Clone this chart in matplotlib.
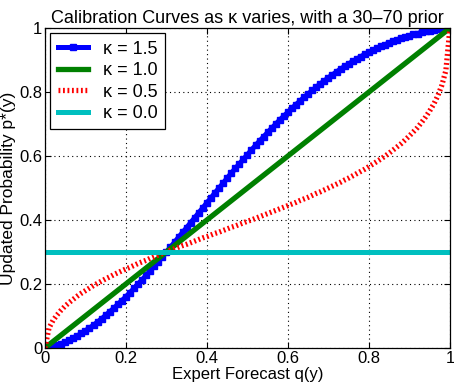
import numpy as np
import matplotlib
matplotlib.use("Agg")
import matplotlib.pyplot as plt

plt.rcParams["font.family"] = ["Liberation Sans", "DejaVu Sans"]

# expert forecast grid, step 0.01
q = np.linspace(0, 1, 101)

p_k15 = [
    .000, .002, .004, .008, .013, .018, .024, .031, .038, .045, .054, .062, .071, .081, .091, .102, .113,
    .124, .136, .148, .160, .173, .186, .200, .213, .227, .241, .256, .270, .285, .300, .315, .330, .346,
    .361, .376, .392, .407, .423, .438, .454, .469, .485, .500, .515, .531, .546, .561, .575, .590, .604,
    .619, .633, .647, .660, .674, .687, .700, .713, .725, .737, .749, .761, .772, .784, .794, .805, .815,
    .826, .835, .845, .854, .863, .872, .880, .888, .896, .903, .911, .918, .924, .931, .937, .943, .948,
    .954, .959, .964, .968, .972, .976, .980, .983, .987, .990, .992, .994, .996, .998, .999, 1.000,
]
p_k05 = [
    .000, .062, .086, .103, .118, .131, .142, .152, .162, .171, .179, .187, .195, .202, .209, .216, .222,
    .229, .235, .241, .247, .252, .258, .264, .269, .274, .280, .285, .290, .295, .300, .305, .310, .315,
    .320, .324, .329, .334, .339, .344, .348, .353, .358, .362, .367, .372, .377, .381, .386, .391, .396,
    .400, .405, .410, .415, .420, .425, .430, .435, .440, .445, .450, .455, .461, .466, .471, .477, .483,
    .488, .494, .500, .506, .512, .518, .525, .531, .538, .545, .552, .559, .567, .575, .583, .591, .600,
    .609, .619, .629, .639, .651, .663, .676, .689, .705, .722, .741, .762, .788, .821, .867, 1.000,
]
q_line = [0.0, 1.0]
p_k10 = [0.0, 1.0]
p_k00 = [0.3, 0.3]

fig = plt.figure(figsize=(4.54, 3.90), dpi=100)
ax = fig.add_axes([0.099, 0.108, 0.892, 0.820])

ax.plot(q, p_k15, color="blue", lw=3.6, marker="s", ms=4.5, label="\u03ba = 1.5")
ax.plot(q_line, p_k10, color="#008000", lw=3.8, label="\u03ba = 1.0")
ax.plot(q, p_k05, color="red", lw=3.8, linestyle=(0, (0.35, 0.5)),
        dash_capstyle="butt", label="\u03ba = 0.5")
ax.plot(q_line, p_k00, color="#00bfbf", lw=3.6, label="\u03ba = 0.0")

ax.set_xlim(0, 1)
ax.set_ylim(0, 1)
ax.set_xticks([0, 0.2, 0.4, 0.6, 0.8, 1])
ax.set_yticks([0, 0.2, 0.4, 0.6, 0.8, 1])
ax.set_xticklabels(["0", "0.2", "0.4", "0.6", "0.8", "1"])
ax.set_yticklabels(["0", "0.2", "0.4", "0.6", "0.8", "1"])
ax.tick_params(direction="in", top=True, right=True, labelsize=12, length=4, pad=2)
ax.grid(True, color="black", linestyle=(0, (1, 3)), linewidth=0.8)
for s in ax.spines.values():
    s.set_linewidth(0.9)

ax.set_title("Calibration Curves as \u03ba varies, with a 30\u201370 prior", fontsize=13, pad=4)
ax.set_xlabel("Expert Forecast q(y)", fontsize=12, labelpad=1)
ax.set_ylabel("Updated Probability p*(y)", fontsize=12.5)
ax.yaxis.set_label_coords(-0.071, 0.5)

leg = ax.legend(loc="upper left", fontsize=13, handlelength=1.7, numpoints=1,
                fancybox=False, framealpha=1, edgecolor="black",
                borderaxespad=0.3, labelspacing=0.25, handletextpad=0.8)
leg.get_frame().set_linewidth(0.9)

fig.savefig("out.png", dpi=100)
